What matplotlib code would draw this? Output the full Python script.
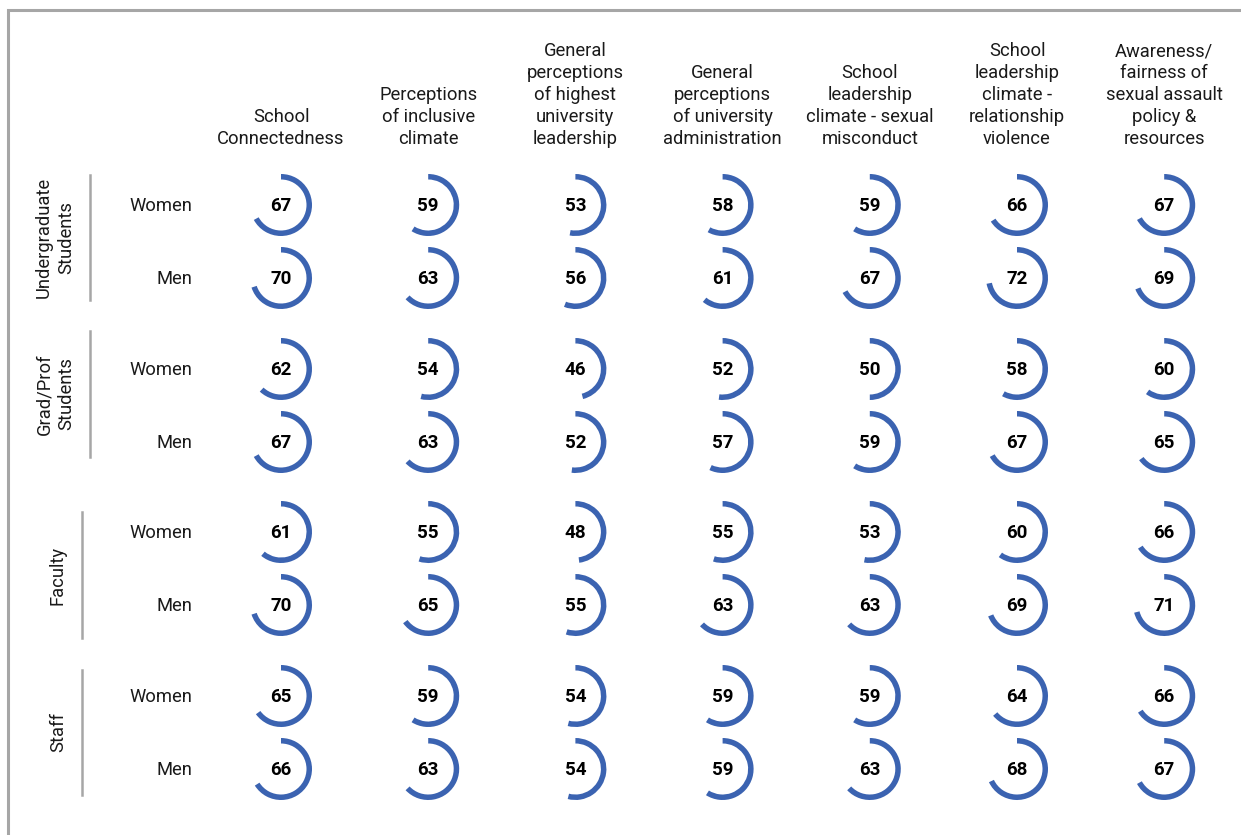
import matplotlib
matplotlib.use("Agg")
import matplotlib.pyplot as plt
from matplotlib.patches import Wedge
from matplotlib.lines import Line2D

plt.rcParams['font.family'] = ['Roboto', 'DejaVu Sans']

columns = ["School\nConnectedness",
           "Perceptions\nof inclusive\nclimate",
           "General\nperceptions\nof highest\nuniversity\nleadership",
           "General\nperceptions\nof university\nadministration",
           "School\nleadership\nclimate - sexual\nmisconduct",
           "School\nleadership\nclimate -\nrelationship\nviolence",
           "Awareness/\nfairness of\nsexual assault\npolicy &\nresources"]
groups = ["Undergraduate\nStudents", "Grad/Prof\nStudents", "Faculty", "Staff"]
genders = ["Women", "Men"]

undergrad_women = [67, 59, 53, 58, 59, 66, 67]
undergrad_men = [70, 63, 56, 61, 67, 72, 69]
grad_women = [62, 54, 46, 52, 50, 58, 60]
grad_men = [67, 63, 52, 57, 59, 67, 65]
faculty_women = [61, 55, 48, 55, 53, 60, 66]
faculty_men = [70, 65, 55, 63, 63, 69, 71]
staff_women = [65, 59, 54, 59, 59, 64, 66]
staff_men = [66, 63, 54, 59, 63, 68, 67]

rows = [undergrad_women, undergrad_men, grad_women, grad_men,
        faculty_women, faculty_men, staff_women, staff_men]

W, H = 1241, 835
fig = plt.figure(figsize=(W / 100, H / 100), dpi=100)
ax = fig.add_axes([0, 0, 1, 1])
ax.set_xlim(0, W)
ax.set_ylim(H, 0)
ax.set_aspect('equal')
ax.axis('off')

blue = '#3B63B1'
grey = '#A6A6A6'
txt = '#1a1a1a'

# frame
ax.add_line(Line2D([8, 8, W], [H, 10, 10], color=grey, lw=2.2, solid_joinstyle='miter'))

col_x0, col_dx = 281, 147.2
row_y = [206, 279, 370, 443, 533, 606, 697, 770]
r_out, ring_w = 31, 5.5

# headers
for j, name in enumerate(columns):
    ax.text(col_x0 + j * col_dx, 148, name, ha='center', va='bottom',
            fontsize=13.2, color=txt, linespacing=1.28)

# rings
for i, vals in enumerate(rows):
    y = row_y[i]
    for j, v in enumerate(vals):
        x = col_x0 + j * col_dx
        ax.add_patch(Wedge((x, y - 1), r_out, -90, -90 + 3.6 * v, width=ring_w,
                           facecolor=blue, edgecolor='none'))
        ax.text(x, y, str(v), ha='center', va='center', fontsize=13.5,
                fontweight='bold', color='black')
    ax.text(192, y, genders[i % 2], ha='right', va='center', fontsize=13.2, color=txt)

# group labels and separators
line_x = [90, 90, 82, 82]
line_y = [(175, 300), (331, 457), (512, 638), (670, 795)]
label_x = [55, 55, 58, 58]
for g, name in enumerate(groups):
    x = line_x[g]
    y0, y1 = line_y[g]
    ax.add_line(Line2D([x, x], [y0, y1], color=grey, lw=1.8))
    ax.text(label_x[g], (y0 + y1) / 2, name, ha='center', va='center',
            rotation=90, fontsize=13.2, color=txt, linespacing=1.28)

fig.savefig('out.png', dpi=100, facecolor='white')
